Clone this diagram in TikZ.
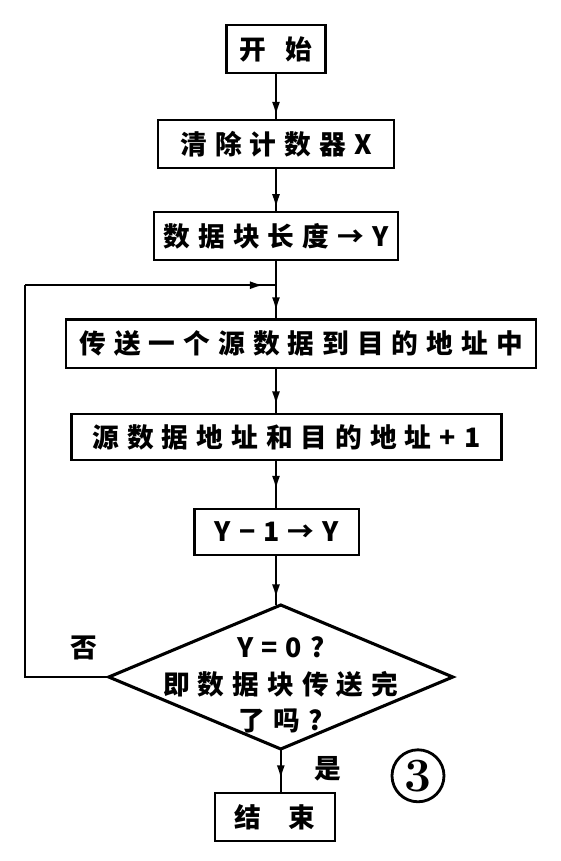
\documentclass[tikz,border=0pt]{standalone}
\usepackage{fontspec}
\newfontfamily\cjk[LetterSpace=30]{Noto Sans CJK SC}
\usetikzlibrary{arrows.meta,positioning,shapes.geometric,decorations.markings}

\begin{document}
\begin{tikzpicture}[every node/.style={font=\cjk\bfseries\fontsize{19}{26}\selectfont, align=center},
    box/.style={draw, line width=1.8pt, inner sep=0pt, outer sep=0pt, minimum height=1.2cm},
    decide/.style={draw, diamond, line width=2.2pt, inner sep=0pt, outer sep=0pt,
                   minimum width=8.6cm, minimum height=3.6cm},
    flow/.style={line width=1.4pt, postaction={decorate, decoration={markings,
                 mark=at position #1 with {\arrow{Latex[length=3.4mm,width=2mm]}}}}},
    flow/.default=0.8,
    plain/.style={line width=1.4pt}]
  \useasboundingbox (0,0) rectangle (14.025,-21.525);
  \node[box, minimum width=2.48cm] (start) at (6.9,-1.225) {开\hspace{0.7em}始};
  \node[box, minimum width=5.9cm, below=1.18cm of start] (clear) {清除计数器X};
  \node[box, minimum width=6.1cm, below=1.1cm of clear] (len) {数据块长度→Y};
  \coordinate[below=0.625cm of len] (join);
  \node[box, minimum width=11.75cm, minimum height=1.22cm,
        below=1.48cm of len, xshift=0.63cm] (move) {传送一个源数据到目的地址中};
  \node[box, minimum width=10.75cm, minimum height=1.15cm,
        below=1.15cm of move, xshift=-0.37cm] (inc) {源数据地址和目的地址+1};
  \node[box, minimum width=4.12cm, minimum height=1.15cm,
        below=1.22cm of inc, xshift=-0.24cm] (dec) {Y−1→Y};
  \node[decide, below=1.25cm of dec, xshift=0.1cm,
        label={[yshift=-0.2cm]center:Y=0?\\即数据块传送完\\了吗?}] (chk) {};
  \node[box, minimum width=3cm, below=1.1cm of chk, xshift=-0.15cm] (end) {结\hspace{1em}束};
  \coordinate (lp) at (0.625,0 |- join);
  % main line
  \draw[flow=0.9] (start) -- (clear);
  \draw[flow=0.9] (clear) -- (len);
  \draw[plain] (len.south -| start) -- (join);
  \draw[flow=0.75] (join) -- (join |- move.north);
  \draw[flow=0.8] (move.south -| start) -- (inc.north -| start);
  \draw[flow=0.6] (inc.south -| start) -- (dec.north -| start);
  \draw[flow=0.86] (dec.south -| start) -- (chk.north -| start);
  \draw[flow=0.68] (chk.south) -- (end.north -| chk.south);
  % back to the top
  \draw[plain] (chk.west) -| (lp);
  \draw[flow=0.95] (lp) -- (join);
  \node[xshift=-0.62cm, yshift=0.72cm] (no) at (chk.west) {否};
  \node[xshift=1.18cm, yshift=-0.5cm] (yes) at (chk.south) {是};
  \node[draw, circle, line width=2pt, inner sep=0pt, minimum size=1.3cm,
        font=\rmfamily\bfseries\fontsize{34}{34}\selectfont, xshift=3.58cm, yshift=1.03cm] (num) at (end) {3};
\end{tikzpicture}
\end{document}
